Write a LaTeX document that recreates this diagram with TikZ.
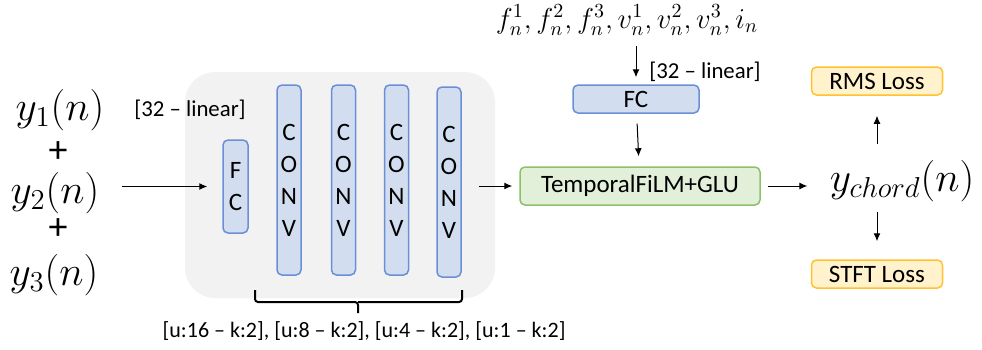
\documentclass[tikz,border=0pt]{standalone}
\usepackage{fontspec}
\setmainfont{Carlito}
\usepackage{amsmath}
\usetikzlibrary{arrows.meta}

\definecolor{bluefill}{HTML}{D3DDF0}
\definecolor{blueline}{HTML}{6A8FD6}
\definecolor{greenfill}{HTML}{E2EFD9}
\definecolor{greenline}{HTML}{8CC16C}
\definecolor{orangefill}{HTML}{FFF2CC}
\definecolor{orangeline}{HTML}{FFC230}
\definecolor{grayfill}{HTML}{F2F2F2}

\tikzset{
  txt/.style={inner sep=0pt, font=\fontsize{11.4}{14}\selectfont},
  mathtxt/.style={inner sep=0pt, font=\fontsize{19.5}{21}\selectfont},
  plustxt/.style={inner sep=0pt, font=\fontsize{19}{20}\selectfont},
  blockbox/.style={draw=blueline, fill=bluefill, line width=0.75pt, rounded corners=2.5pt,
    inner sep=0pt, align=center, font=\fontsize{12.5}{16}\selectfont},
  filmbox/.style={blockbox, draw=greenline, fill=greenfill},
  lossbox/.style={blockbox, draw=orangeline, fill=orangefill},
  encbox/.style={fill=grayfill, rounded corners=15pt, inner sep=0pt},
  arr/.style={->, line width=0.5pt},
  bracket/.style={line width=1pt, rounded corners=1.5pt},
}

\begin{document}
\begin{tikzpicture}[x=0.5pt,y=-0.5pt,>={Latex[length=4pt,width=3.5pt]}]
\useasboundingbox (0,0) rectangle (982,349);

% inputs
\node[mathtxt] (y1) at (60,110) {$y_1(n)$};
\node[plustxt] (plus1) at (58,152) {+};
\node[mathtxt] (y2) at (55,193) {$y_2(n)$};
\node[plustxt] (plus2) at (58,229) {+};
\node[mathtxt] (y3) at (54,275) {$y_3(n)$};

% encoder
\node[encbox, minimum width=155pt, minimum height=113pt] (enc) at (340,185) {};
\node[blockbox, minimum width=12.5pt, minimum height=46.5pt] (fc) at (235.5,186.5) {F\\C};
\node[blockbox, minimum width=12pt, minimum height=95pt] (conv1) at (289,180) {C\\O\\N\\V};
\node[blockbox, minimum width=12pt, minimum height=95pt] (conv2) at (343.5,180) {C\\O\\N\\V};
\node[blockbox, minimum width=12pt, minimum height=95pt] (conv3) at (396.5,180) {C\\O\\N\\V};
\node[blockbox, minimum width=12pt, minimum height=95pt] (conv4) at (449,182) {C\\O\\N\\V};
\node[txt] (lin1) at (190,110) {[32 – linear]};

\draw[bracket] (255,290) |- (358,302) -- (358,313);
\draw[bracket] (462,290) |- (358,302);
\node[txt, font=\fontsize{11}{13}\selectfont] (dil) at (364,331) {[u:16 – k:2], [u:8 – k:2], [u:4 – k:2], [u:1 – k:2]};

% conditioning
\node[txt, font=\fontsize{14}{16}\selectfont] (cond) at (627,20) {$f_n^1, f_n^2, f_n^3, v_n^1, v_n^2, v_n^3, i_n$};
\node[blockbox, minimum width=63pt, minimum height=14pt] (fctop) at (636,99) {FC};
\node[txt] (lin2) at (705,72) {[32 – linear]};
\node[filmbox, minimum width=120pt, minimum height=19pt] (film) at (640,186) {TemporalFiLM+GLU};

% output
\node[mathtxt] (ychord) at (902,181) {$y_{chord}(n)$};
\node[lossbox, minimum width=65.5pt, minimum height=14pt] (rms) at (877,81) {RMS Loss};
\node[lossbox, minimum width=65.5pt, minimum height=14pt] (stft) at (877,274) {STFT Loss};

\draw[arr, shorten <=11pt, shorten >=7.5pt] (y2.east |- fc.west) -- (fc.west);
\draw[arr, shorten <=8.5pt, shorten >=3.5pt] (conv4.east |- film.west) -- (film.west);
\draw[arr, shorten <=5pt, shorten >=3.5pt] (fctop.north |- cond.south) -- (fctop.north);
\draw[arr, shorten <=5pt, shorten >=5pt] (fctop) -- (film);
\draw[arr, shorten <=3.5pt, shorten >=11pt] (film.east) -- (film.east -| ychord.west);
\draw[arr, shorten <=8pt, shorten >=10pt] (rms.south |- ychord.north) -- (rms.south);
\draw[arr, shorten <=5pt, shorten >=9pt] (stft.north |- ychord.south) -- (stft.north);

\end{tikzpicture}
\end{document}
